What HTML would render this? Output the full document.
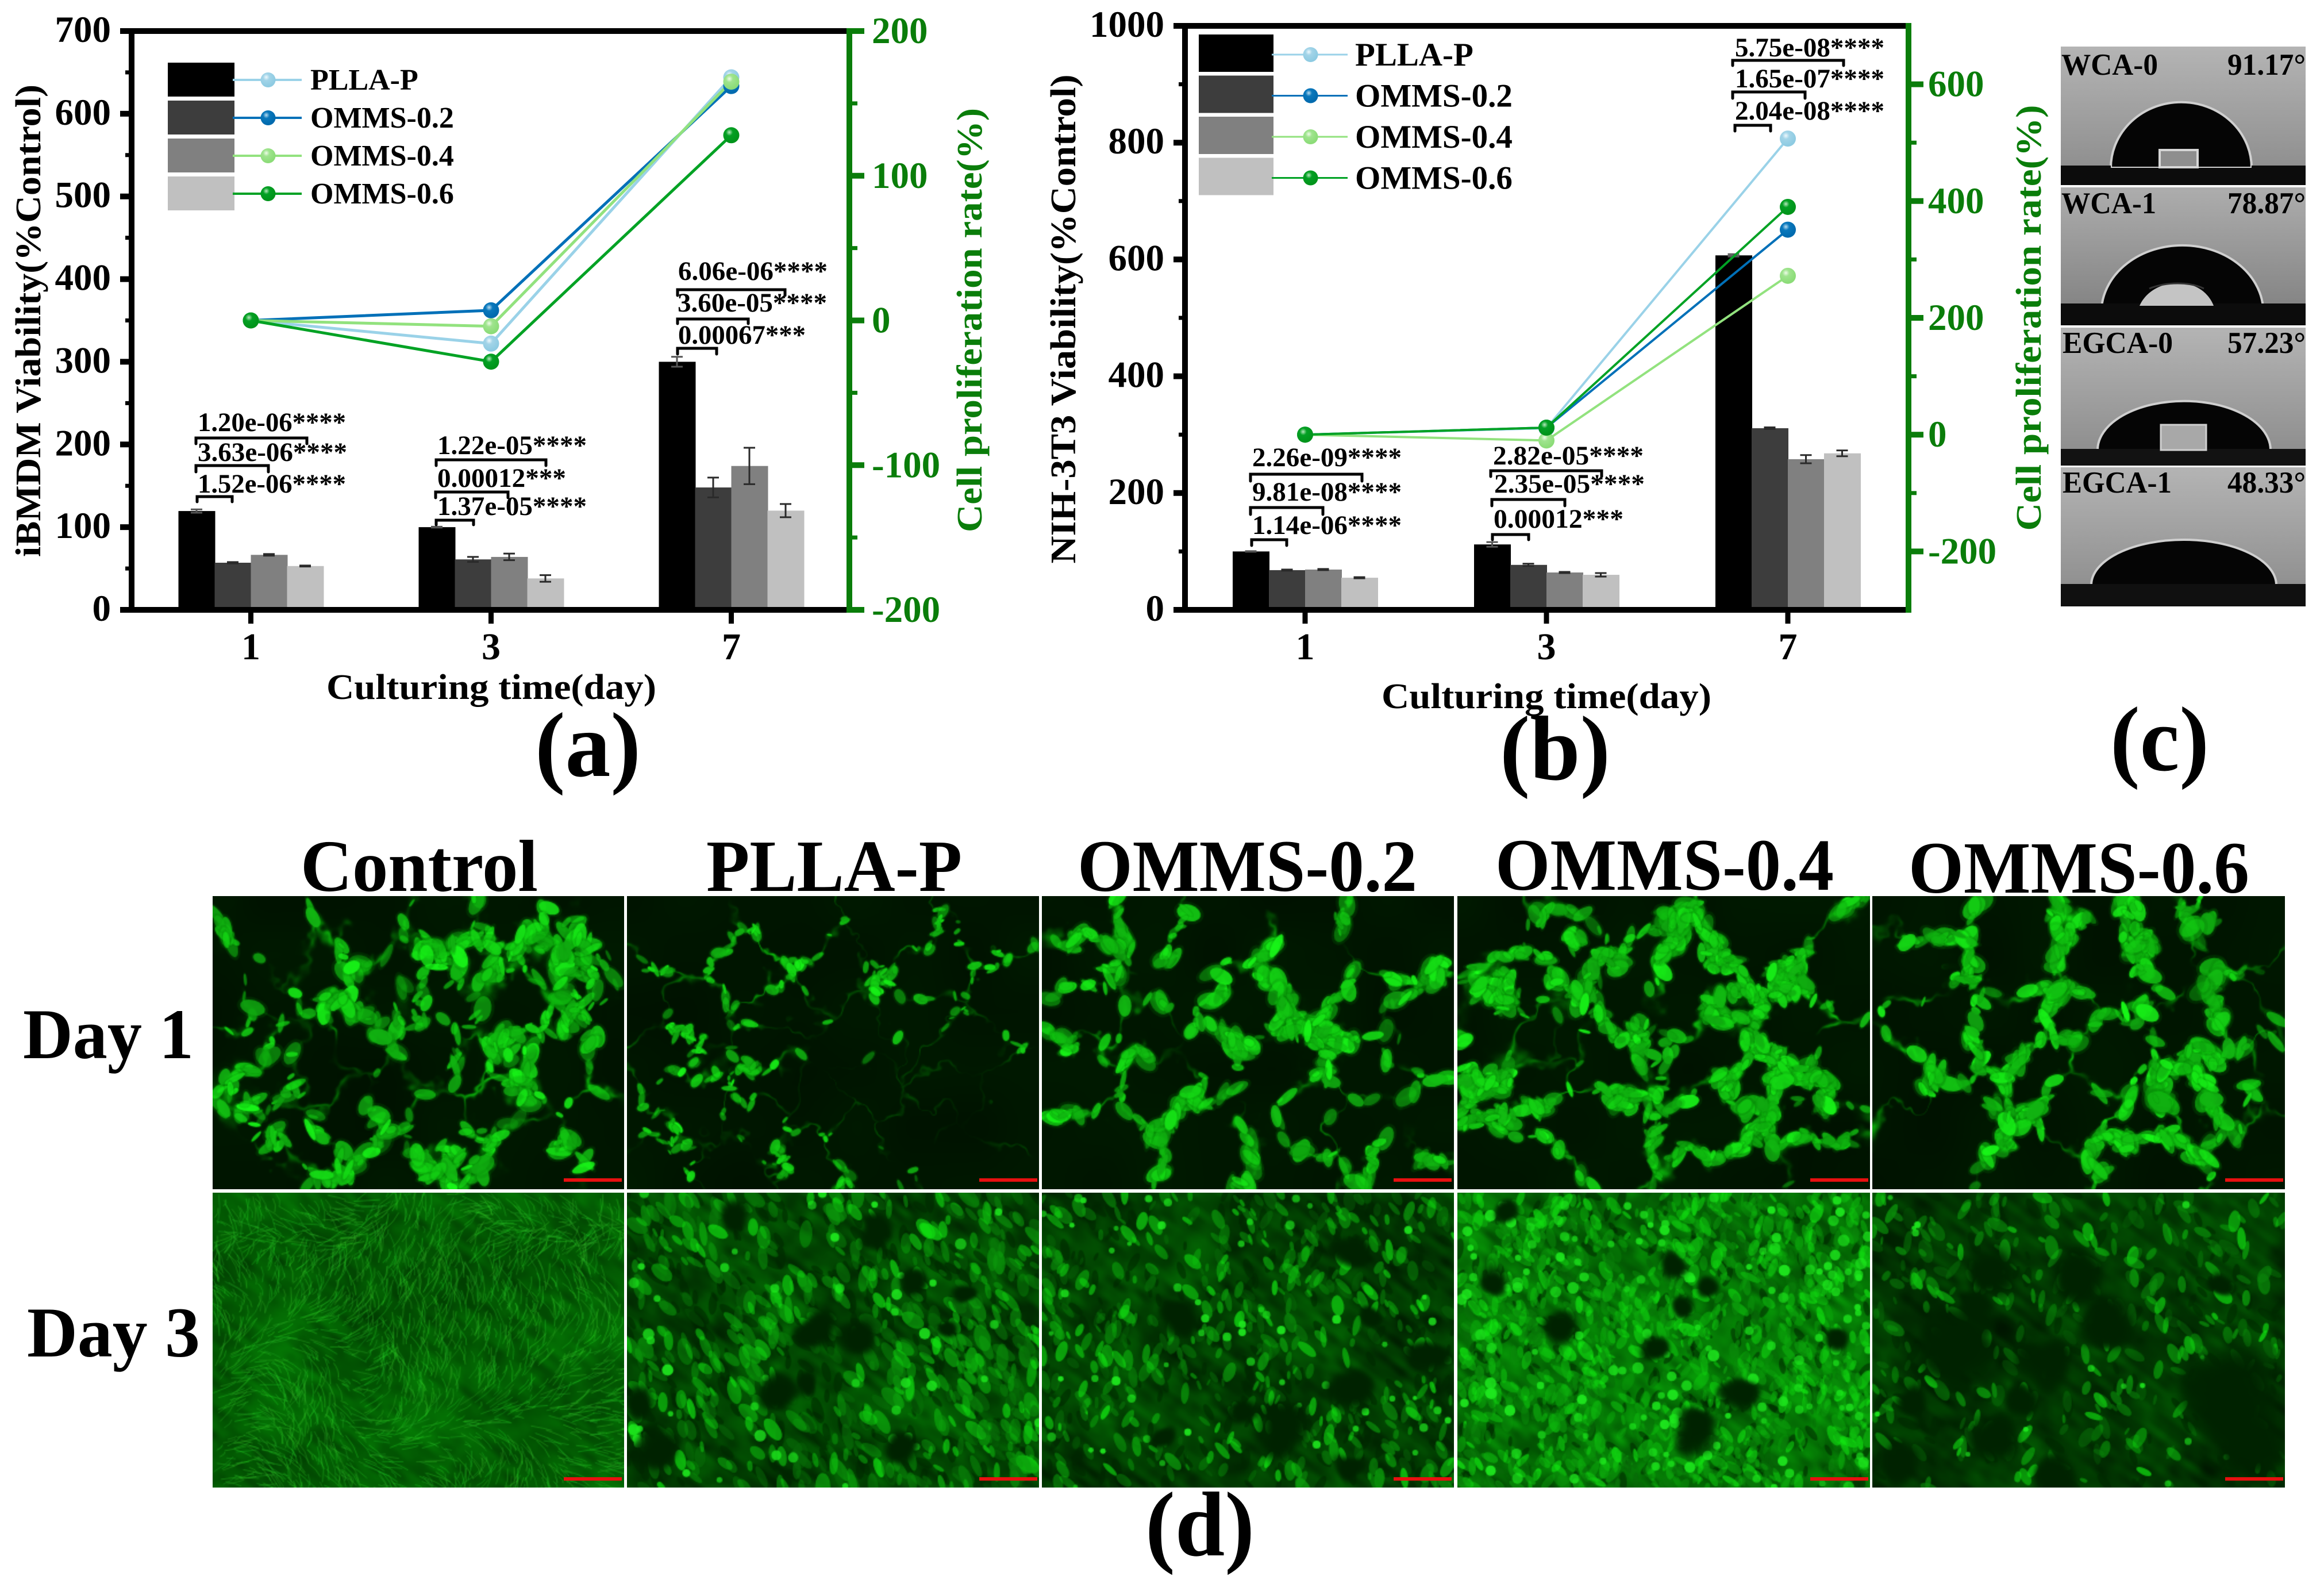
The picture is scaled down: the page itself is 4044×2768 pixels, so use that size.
<!DOCTYPE html>
<html lang="en">
<head>
<meta charset="utf-8">
<title>Cell viability figure</title>
<style>
html,body{margin:0;padding:0;background:#fff;}
#figure{position:relative;width:4044px;height:2768px;overflow:hidden;background:#fff;}
#figure canvas{position:absolute;display:block;}
#overlay{position:absolute;left:0;top:0;}
#overlay text{font-family:"Liberation Serif",serif;font-weight:bold;fill:#000;}
#overlay .g{fill:#0a7d0a;}
</style>
</head>
<body>
<div id="figure">
<canvas id="p00" width="358" height="255" style="left:370px;top:1559px;width:716px;height:510px"></canvas>
<canvas id="p01" width="358" height="255" style="left:1091px;top:1559px;width:717px;height:510px"></canvas>
<canvas id="p02" width="358" height="255" style="left:1813px;top:1559px;width:717px;height:510px"></canvas>
<canvas id="p03" width="358" height="255" style="left:2536px;top:1559px;width:718px;height:510px"></canvas>
<canvas id="p04" width="358" height="255" style="left:3258px;top:1559px;width:718px;height:510px"></canvas>
<canvas id="p10" width="358" height="257" style="left:370px;top:2075px;width:716px;height:513px"></canvas>
<canvas id="p11" width="358" height="257" style="left:1091px;top:2075px;width:717px;height:513px"></canvas>
<canvas id="p12" width="358" height="257" style="left:1813px;top:2075px;width:717px;height:513px"></canvas>
<canvas id="p13" width="358" height="257" style="left:2536px;top:2075px;width:718px;height:513px"></canvas>
<canvas id="p14" width="358" height="257" style="left:3258px;top:2075px;width:718px;height:513px"></canvas>

<svg id="overlay" xmlns="http://www.w3.org/2000/svg" width="4044" height="2768" viewBox="0 0 4044 2768">
<defs>
<radialGradient id="ball-0" cx="38%" cy="32%" r="62%"><stop offset="0" stop-color="#eef8fc"/><stop offset=".35" stop-color="#a2d4e8"/><stop offset="1" stop-color="#8ecbe2"/></radialGradient>
<radialGradient id="ball-1" cx="38%" cy="32%" r="62%"><stop offset="0" stop-color="#b8dcf0"/><stop offset=".35" stop-color="#0a78bc"/><stop offset="1" stop-color="#006aae"/></radialGradient>
<radialGradient id="ball-2" cx="38%" cy="32%" r="62%"><stop offset="0" stop-color="#eefbe8"/><stop offset=".35" stop-color="#9fe48e"/><stop offset="1" stop-color="#8cdc78"/></radialGradient>
<radialGradient id="ball-3" cx="38%" cy="32%" r="62%"><stop offset="0" stop-color="#b6e8bc"/><stop offset=".35" stop-color="#04a024"/><stop offset="1" stop-color="#00941a"/></radialGradient>
<linearGradient id="wca-bg" x1="0" y1="0" x2="0" y2="1"><stop offset="0" stop-color="#b4b4b4"/><stop offset="1" stop-color="#8a8a8a"/></linearGradient>
<linearGradient id="wca-bg2" x1="0" y1="0" x2="0" y2="1"><stop offset="0" stop-color="#adadad"/><stop offset="1" stop-color="#7e7e7e"/></linearGradient>
</defs>

<g id="chart-a"></g>
<g id="chart-b"></g>

<!-- chart a titles -->
<text x="0" y="0" transform="translate(70 558) rotate(-90)" text-anchor="middle" font-size="62" textLength="822" lengthAdjust="spacingAndGlyphs">iBMDM Viability(%Control)</text>
<text class="g" x="0" y="0" transform="translate(1708 557) rotate(-90)" text-anchor="middle" font-size="62" textLength="738" lengthAdjust="spacingAndGlyphs">Cell proliferation rate(%)</text>
<text x="855" y="1216" text-anchor="middle" font-size="62" textLength="574" lengthAdjust="spacingAndGlyphs">Culturing time(day)</text>
<text x="1023" y="1350" text-anchor="middle" font-size="160" textLength="184" lengthAdjust="spacingAndGlyphs">(a)</text>

<!-- chart b titles -->
<text x="0" y="0" transform="translate(1871 555) rotate(-90)" text-anchor="middle" font-size="62" textLength="851" lengthAdjust="spacingAndGlyphs">NIH-3T3 Viability(%Control)</text>
<text class="g" x="0" y="0" transform="translate(3551 553) rotate(-90)" text-anchor="middle" font-size="62" textLength="741" lengthAdjust="spacingAndGlyphs">Cell proliferation rate(%)</text>
<text x="2691" y="1232" text-anchor="middle" font-size="62" textLength="574" lengthAdjust="spacingAndGlyphs">Culturing time(day)</text>
<text x="2706" y="1356" text-anchor="middle" font-size="160" textLength="192" lengthAdjust="spacingAndGlyphs">(b)</text>

<!-- significance annotations a -->
<g fill="none" stroke="#000" stroke-width="5" stroke-linecap="round">
<path d="M341 772V762H534V772"/><path d="M341 821V810H467V821"/><path d="M343 873V864H404V873"/>
<path d="M759 810V800H950V810"/><path d="M758 866V856H884V866"/><path d="M759 913V905H824V913"/>
<path d="M1179 514V504H1366V514"/><path d="M1179 563V555H1302V563"/><path d="M1179 616V606H1247V616"/>
</g>
<g font-size="47">
<text x="344" y="750" textLength="258" lengthAdjust="spacingAndGlyphs">1.20e-06****</text>
<text x="344" y="802" textLength="260" lengthAdjust="spacingAndGlyphs">3.63e-06****</text>
<text x="344" y="857" textLength="258" lengthAdjust="spacingAndGlyphs">1.52e-06****</text>
<text x="761" y="790" textLength="260" lengthAdjust="spacingAndGlyphs">1.22e-05****</text>
<text x="761" y="847" textLength="224" lengthAdjust="spacingAndGlyphs">0.00012***</text>
<text x="761" y="896" textLength="260" lengthAdjust="spacingAndGlyphs">1.37e-05****</text>
<text x="1180" y="487" textLength="260" lengthAdjust="spacingAndGlyphs">6.06e-06****</text>
<text x="1179" y="542" textLength="260" lengthAdjust="spacingAndGlyphs">3.60e-05****</text>
<text x="1180" y="598" textLength="222" lengthAdjust="spacingAndGlyphs">0.00067***</text>
</g>

<!-- significance annotations b -->
<g fill="none" stroke="#000" stroke-width="5" stroke-linecap="round">
<path d="M2176 837V825H2370V837"/><path d="M2176 895V883H2302V895"/><path d="M2178 949V939H2239V949"/>
<path d="M2594 829V819H2787V829"/><path d="M2596 880V869H2723V880"/><path d="M2597 939V930H2660V939"/>
<path d="M3015 114V105H3208V114"/><path d="M3015 171V160H3141V171"/><path d="M3019 228V218H3081V228"/>
</g>
<g font-size="47">
<text x="2179" y="811" textLength="260" lengthAdjust="spacingAndGlyphs">2.26e-09****</text>
<text x="2179" y="871" textLength="260" lengthAdjust="spacingAndGlyphs">9.81e-08****</text>
<text x="2179" y="929" textLength="260" lengthAdjust="spacingAndGlyphs">1.14e-06****</text>
<text x="2598" y="808" textLength="262" lengthAdjust="spacingAndGlyphs">2.82e-05****</text>
<text x="2600" y="857" textLength="262" lengthAdjust="spacingAndGlyphs">2.35e-05****</text>
<text x="2599" y="918" textLength="226" lengthAdjust="spacingAndGlyphs">0.00012***</text>
<text x="3019" y="98" textLength="260" lengthAdjust="spacingAndGlyphs">5.75e-08****</text>
<text x="3019" y="152" textLength="260" lengthAdjust="spacingAndGlyphs">1.65e-07****</text>
<text x="3019" y="208" textLength="260" lengthAdjust="spacingAndGlyphs">2.04e-08****</text>
</g>

<!-- panel c -->
<g>
<g>
<rect x="3586" y="81" width="426" height="241" fill="url(#wca-bg)"/>
<path d="M3673 292A122 114 0 0 1 3918 292Z" fill="#050505" stroke="#cfcfcf" stroke-width="4"/>
<rect x="3586" y="288" width="87" height="34" fill="#0c0c0c"/><rect x="3918" y="288" width="94" height="34" fill="#0c0c0c"/>
<rect x="3586" y="292" width="426" height="30" fill="#0c0c0c"/>
<rect x="3758" y="261" width="66" height="30" fill="#8e8e8e" stroke="#d6d6d6" stroke-width="4"/>
</g>
<g>
<rect x="3586" y="326" width="426" height="240" fill="url(#wca-bg2)"/>
<path d="M3657 534A141 117 0 0 1 3938 534Z" fill="#050505" stroke="#cfcfcf" stroke-width="4"/>
<rect x="3586" y="528" width="426" height="38" fill="#0c0c0c"/>
<path d="M3723 532C3745 482 3830 476 3852 532Z" fill="#c4c4c4"/>
<path d="M3740 502C3770 490 3810 490 3835 502" fill="none" stroke="#333" stroke-width="3"/>
</g>
<g>
<rect x="3586" y="570" width="426" height="240" fill="url(#wca-bg)"/>
<path d="M3650 783A150 85 0 0 1 3951 783Z" fill="#050505" stroke="#cfcfcf" stroke-width="4"/>
<rect x="3586" y="781" width="426" height="29" fill="#121212"/>
<rect x="3760" y="739" width="79" height="44" fill="#a8a8a8" stroke="#cfcfcf" stroke-width="3"/>
</g>
<g>
<rect x="3586" y="813" width="426" height="242" fill="url(#wca-bg)"/>
<path d="M3639 1018A161 79 0 0 1 3961 1018Z" fill="#050505" stroke="#cfcfcf" stroke-width="4"/>
<rect x="3586" y="1016" width="426" height="39" fill="#101010"/>
</g>
<g font-size="53">
<text x="3587" y="130" textLength="168" lengthAdjust="spacingAndGlyphs">WCA-0</text>
<text x="4012" y="130" text-anchor="end" textLength="136" lengthAdjust="spacingAndGlyphs">91.17°</text>
<text x="3587" y="371" textLength="165" lengthAdjust="spacingAndGlyphs">WCA-1</text>
<text x="4012" y="371" text-anchor="end" textLength="136" lengthAdjust="spacingAndGlyphs">78.87°</text>
<text x="3589" y="614" textLength="192" lengthAdjust="spacingAndGlyphs">EGCA-0</text>
<text x="4012" y="614" text-anchor="end" textLength="136" lengthAdjust="spacingAndGlyphs">57.23°</text>
<text x="3589" y="857" textLength="190" lengthAdjust="spacingAndGlyphs">EGCA-1</text>
<text x="4012" y="857" text-anchor="end" textLength="136" lengthAdjust="spacingAndGlyphs">48.33°</text>
</g>
<text x="3758" y="1340" text-anchor="middle" font-size="160" textLength="172" lengthAdjust="spacingAndGlyphs">(c)</text>
</g>

<!-- panel d -->
<g font-size="128">
<text x="523" y="1550" textLength="413" lengthAdjust="spacingAndGlyphs">Control</text>
<text x="1229" y="1550" textLength="445" lengthAdjust="spacingAndGlyphs">PLLA-P</text>
<text x="1875" y="1550" textLength="591" lengthAdjust="spacingAndGlyphs">OMMS-0.2</text>
<text x="2602" y="1548" textLength="589" lengthAdjust="spacingAndGlyphs">OMMS-0.4</text>
<text x="3321" y="1553" textLength="593" lengthAdjust="spacingAndGlyphs">OMMS-0.6</text>
</g>
<text x="40" y="1841" font-size="124" textLength="297" lengthAdjust="spacingAndGlyphs">Day 1</text>
<text x="47" y="2360" font-size="124" textLength="301" lengthAdjust="spacingAndGlyphs">Day 3</text>
<text x="2088" y="2706" text-anchor="middle" font-size="160" textLength="190" lengthAdjust="spacingAndGlyphs">(d)</text>
<g fill="#e81010">
<rect x="981" y="2050" width="101" height="6"/><rect x="1704" y="2050" width="101" height="6"/><rect x="2425" y="2050" width="101" height="6"/><rect x="3150" y="2050" width="101" height="6"/><rect x="3872" y="2050" width="101" height="6"/>
<rect x="981" y="2570" width="101" height="6"/><rect x="1704" y="2570" width="101" height="6"/><rect x="2425" y="2570" width="101" height="6"/><rect x="3150" y="2570" width="101" height="6"/><rect x="3872" y="2570" width="101" height="6"/>
</g>
</svg>
</div>

<script>
/* ===== chart data ===== */
const categories = ['1', '3', '7'];
const seriesNames = ['PLLA-P', 'OMMS-0.2', 'OMMS-0.4', 'OMMS-0.6'];

const aBarPlla = [119.5, 100, 300];
const aBarOmms02 = [57, 61, 148];
const aBarOmms04 = [66.5, 64, 174];
const aBarOmms06 = [53, 38, 120];
const aErrPlla = [2, 0.5, 6];
const aErrOmms02 = [0.8, 3, 12];
const aErrOmms04 = [1, 4, 22];
const aErrOmms06 = [0.6, 4, 8];
const aRatePlla = [0, -16, 168];
const aRateOmms02 = [0, 7, 162];
const aRateOmms04 = [0, -4, 165];
const aRateOmms06 = [0, -28.5, 128];
const aLeftTicks = [0, 100, 200, 300, 400, 500, 600, 700];
const aRightTicks = [-200, -100, 0, 100, 200];

const bBarPlla = [100, 112, 607];
const bBarOmms02 = [68, 77, 311];
const bBarOmms04 = [69, 64, 258];
const bBarOmms06 = [55, 60, 268];
const bErrPlla = [0.5, 4, 2];
const bErrOmms02 = [1, 2, 1.5];
const bErrOmms04 = [1, 1, 7];
const bErrOmms06 = [1, 3, 5];
const bRatePlla = [0, 11, 507];
const bRateOmms02 = [0, 12, 351];
const bRateOmms04 = [0, -10, 272];
const bRateOmms06 = [0, 12, 390];
const bLeftTicks = [0, 200, 400, 600, 800, 1000];
const bRightTicks = [-200, 0, 200, 400, 600];

const barColors = ['#000000', '#3d3d3d', '#808080', '#c0c0c0'];
const lineColors = ['#9ad2e8', '#0070b8', '#92e27e', '#00a224'];
const SVGNS = 'http://www.w3.org/2000/svg';
const GREEN = '#0a7d0a';

function make(parent, tag, attrs, text) {
  const el = document.createElementNS(SVGNS, tag);
  for (const k in attrs) el.setAttribute(k, attrs[k]);
  if (text !== undefined) el.textContent = text;
  parent.appendChild(el);
  return el;
}

function drawChart(root, c) {
  const yL = v => c.bottom - (v - c.leftMin) / (c.leftMax - c.leftMin) * (c.bottom - c.top);
  const yR = v => c.bottom - (v - c.rightMin) / (c.rightMax - c.rightMin) * (c.bottom - c.top);
  const xC = i => c.firstX + i * c.stepX;

  // bars + error bars
  c.bars.forEach((vals, s) => {
    vals.forEach((v, i) => {
      const x = xC(i) + (s - 2) * c.barW;
      const bar = make(root, 'rect', {x: x, y: yL(v), width: c.barW + 1, height: c.bottom - yL(v), fill: barColors[s]});
      
      
      const e = c.errs[s][i];
      const cx = x + c.barW / 2;
      const err = make(root, 'path', {
        d: 'M' + (cx - 10) + ' ' + yL(v + e) + 'H' + (cx + 10) + 'M' + cx + ' ' + yL(v + e) + 'V' + yL(v - e) + 'M' + (cx - 10) + ' ' + yL(v - e) + 'H' + (cx + 10),
        stroke: s === 0 ? '#555' : '#2a2a2a', 'stroke-width': 3, fill: 'none'
      });
      
      
    });
  });

  // axes frame
  const frame = make(root, 'path', {
    d: 'M' + c.left + ' ' + c.bottom + 'V' + c.top + 'H' + c.right + 'M' + c.left + ' ' + c.bottom + 'H' + c.right,
    stroke: '#000', 'stroke-width': 10, fill: 'none', 'stroke-linecap': 'square'
  });
  
  
  const rAxis = make(root, 'line', {x1: c.right, x2: c.right, y1: c.top - 5, y2: c.bottom + 5, stroke: GREEN, 'stroke-width': 10});
  
  

  // left ticks
  c.leftTicks.forEach((v, i) => {
    const t = make(root, 'line', {x1: c.left - 20, x2: c.left, y1: yL(v), y2: yL(v), stroke: '#000', 'stroke-width': 10});
    
    
    const lab = make(root, 'text', {x: c.leftLabelX, y: yL(v) + 19, 'text-anchor': 'end', 'font-size': 65}, String(v));
    
    
    if (i < c.leftTicks.length - 1) {
      const mv = (v + c.leftTicks[i + 1]) / 2;
      const m = make(root, 'line', {x1: c.left - 11, x2: c.left, y1: yL(mv), y2: yL(mv), stroke: '#000', 'stroke-width': 7});
      
      
    }
  });

  // right ticks
  c.rightTicks.forEach((v, i) => {
    const t = make(root, 'line', {x1: c.right, x2: c.right + 26, y1: yR(v), y2: yR(v), stroke: GREEN, 'stroke-width': 10});
    
    
    const lab = make(root, 'text', {x: c.rightLabelX, y: yR(v) + 21, 'font-size': 65, class: 'g'}, String(v));
    
    
    if (i < c.rightTicks.length - 1) {
      const mv = (v + c.rightTicks[i + 1]) / 2;
      const m = make(root, 'line', {x1: c.right, x2: c.right + 14, y1: yR(mv), y2: yR(mv), stroke: GREEN, 'stroke-width': 7});
      
      
    }
  });

  // x ticks
  categories.forEach((name, i) => {
    const t = make(root, 'line', {x1: xC(i), x2: xC(i), y1: c.bottom, y2: c.bottom + 24, stroke: '#000', 'stroke-width': 9});
    
    
    const lab = make(root, 'text', {x: xC(i), y: c.xLabelY, 'text-anchor': 'middle', 'font-size': 66}, name);
    
    
  });

  // proliferation lines
  c.lines.forEach((vals, s) => {
    const pts = vals.map((v, i) => xC(i) + ',' + yR(v)).join(' ');
    const line = make(root, 'polyline', {points: pts, fill: 'none', stroke: lineColors[s], 'stroke-width': c.lineW});
    
    
  });
  c.lines.forEach((vals, s) => {
    vals.forEach((v, i) => {
      const pt = make(root, 'circle', {cx: xC(i), cy: yR(v), r: c.dotR, fill: 'url(#ball-' + s + ')'});
      
      
    });
  });

  // legend
  seriesNames.forEach((name, s) => {
    const sw = make(root, 'rect', {x: c.legX, y: c.legSwatchY + s * c.legStep, width: c.legSwW, height: c.legSwH, fill: barColors[s]});
    
    
    const ly = c.legLineY + s * c.legStep;
    const ll = make(root, 'line', {x1: c.legX + c.legSwW - 3, x2: c.legX + c.legSwW + c.legLineW, y1: ly, y2: ly, stroke: lineColors[s], 'stroke-width': c.lineW - 1});
    
    
    const lm = make(root, 'circle', {cx: c.legX + c.legSwW + c.legLineW / 2, cy: ly, r: c.dotR - 1, fill: 'url(#ball-' + s + ')'});
    
    
    const lt = make(root, 'text', {x: c.legTextX, y: ly + c.legFont * 0.33, 'font-size': c.legFont}, name);
    
    
  });
}

drawChart(document.getElementById('chart-a'), {
  left: 229, right: 1478, top: 54, bottom: 1061,
  leftMin: 0, leftMax: 700, rightMin: -200, rightMax: 200,
  firstX: 436.5, stepX: 418, barW: 63, lineW: 5, dotR: 14,
  bars: [aBarPlla, aBarOmms02, aBarOmms04, aBarOmms06],
  errs: [aErrPlla, aErrOmms02, aErrOmms04, aErrOmms06],
  lines: [aRatePlla, aRateOmms02, aRateOmms04, aRateOmms06],
  leftTicks: aLeftTicks, rightTicks: aRightTicks,
  leftLabelX: 193, rightLabelX: 1517, xLabelY: 1147,
  legX: 292, legSwatchY: 109, legSwW: 116, legSwH: 59, legStep: 66, legLineY: 139, legLineW: 117,
  legTextX: 540, legFont: 52
});

drawChart(document.getElementById('chart-b'), {
  left: 2062, right: 3321, top: 45, bottom: 1061,
  leftMin: 0, leftMax: 1000, rightMin: -300, rightMax: 700,
  firstX: 2271, stepX: 420, barW: 63, lineW: 4, dotR: 14,
  bars: [bBarPlla, bBarOmms02, bBarOmms04, bBarOmms06],
  errs: [bErrPlla, bErrOmms02, bErrOmms04, bErrOmms06],
  lines: [bRatePlla, bRateOmms02, bRateOmms04, bRateOmms06],
  leftTicks: bLeftTicks, rightTicks: bRightTicks,
  leftLabelX: 2026, rightLabelX: 3355, xLabelY: 1147,
  legX: 2086, legSwatchY: 60, legSwW: 130, legSwH: 65, legStep: 71.5, legLineY: 95, legLineW: 129,
  legTextX: 2358, legFont: 57
});

/* ===== micrograph texture (decorative fluorescence images) ===== */
function rng(seed) {
  let s = seed >>> 0;
  return function () {
    s = (Math.imul(s, 1664525) + 1013904223) >>> 0;
    return s / 4294967296;
  };
}
function makeNoise(seed) {
  const r = rng(seed), n = 64, g = new Float32Array(n * n);
  for (let i = 0; i < 20; i++) r();
  for (let i = 0; i < n * n; i++) g[i] = r();
  return function (x, y) {
    const xi = Math.floor(x), yi = Math.floor(y);
    let fx = x - xi, fy = y - yi;
    fx = fx * fx * (3 - 2 * fx); fy = fy * fy * (3 - 2 * fy);
    const a = g[((yi & 63) * 64) + (xi & 63)], b = g[((yi & 63) * 64) + ((xi + 1) & 63)];
    const c = g[(((yi + 1) & 63) * 64) + (xi & 63)], d = g[(((yi + 1) & 63) * 64) + ((xi + 1) & 63)];
    return (a + (b - a) * fx) * (1 - fy) + (c + (d - c) * fx) * fy;
  };
}

const day1Holes = {
  p00: [[.17,.15],[.27,.22],[.42,.3],[.37,.07],[.6,.08],[.7,.09],[.84,.13],[.89,.07],[.8,.2],[.05,.33],[.11,.32],[.55,.3],[.65,.27],[.72,.33],[.14,.55],[.09,.5],[.27,.55],[.35,.5],[.52,.6],[.63,.6],[.7,.6],[.55,.78],[.45,.9],[.19,.8],[.12,.93],[.34,.75],[.86,.58],[.79,.88],[.96,.55],[.72,.72],[.45,.68],[.92,.8]],
  p01: [[.13,.1],[.42,.1],[.64,.09],[.88,.1],[.48,.2],[.75,.24],[.04,.36],[.3,.3],[.91,.33],[.13,.42],[.36,.4],[.72,.43],[.1,.55],[.36,.55],[.57,.5],[.8,.52],[.12,.68],[.37,.6],[.58,.64],[.8,.68],[.05,.76],[.32,.78],[.47,.72],[.72,.8],[.9,.72],[.28,.9],[.55,.85],[.82,.92],[.06,.93],[.43,.93]],
  p02: [[.1,.08],[.27,.05],[.4,.15],[.66,.24],[.85,.2],[.79,.33],[.08,.23],[.34,.35],[.12,.39],[.27,.47],[.48,.4],[.93,.44],[.4,.57],[.3,.62],[.53,.62],[.81,.62],[.63,.77],[.79,.8],[.95,.8],[.14,.85],[.42,.82],[.6,.93],[.9,.93],[.07,.6]],
  p03: [[.15,.31],[.26,.18],[.32,.05],[.26,.51],[.18,.46],[.33,.56],[.4,.3],[.54,.37],[.22,.62],[.11,.41],[.79,.08],[.82,.48],[.9,.59],[.64,.76],[.86,.76],[.72,.65],[.19,.93],[.3,.8],[.68,.93],[.89,.9],[.09,.11],[.61,.54],[.92,.25]],
  p04: [[.08,.23],[.33,.2],[.7,.2],[.9,.13],[.97,.3],[.91,.39],[.95,.62],[.12,.46],[.46,.46],[.59,.25],[.17,.78],[.66,.88],[.78,.42],[.37,.42],[.44,.56],[.68,.76],[.4,.92],[.95,.88],[.76,.73],[.49,.72],[.06,.58],[.53,.54],[.1,.07],[.88,.62]]
};
const day1Clumps = {
  p00: [[.08,.07,.09,2.2],[.28,.05,.07,2.2],[.33,.32,.1,2.4],[.12,.65,.1,2.6],[.4,.55,.08,1.6],[.52,.4,.06,1.6],[.62,.25,.1,2],[.87,.2,.1,2],[.9,.42,.1,2.2],[.78,.52,.08,2.4],[.42,.88,.1,2.2],[.62,.88,.12,2],[.2,.17,.13,.25],[.25,.58,.12,.3]],
  p01: [[.1,.2,.08,1.7],[.22,.28,.1,2.2],[.37,.1,.1,1.5],[.72,.26,.1,2],[.25,.68,.1,1.6],[.05,.8,.07,1.3],[.75,.6,.2,.45],[.55,.15,.12,.5],[.45,.5,.16,.6]],
  p02: [[.57,.4,.13,3.4],[.06,.68,.09,3],[.33,.8,.11,3],[.2,.13,.09,2],[.9,.3,.1,1.6],[.45,.12,.1,1.6],[.4,.6,.12,.35],[.12,.4,.08,.5]],
  p03: [[.05,.45,.1,3.4],[.3,.22,.1,2.2],[.55,.18,.12,2.2],[.75,.45,.12,1.8],[.4,.68,.1,2.6],[.1,.8,.1,2.6],[.75,.75,.1,2.2],[.24,.5,.11,.15]],
  p04: [[.3,.08,.1,1.6],[.45,.1,.12,3],[.6,.1,.1,2.6],[.8,.5,.1,2.2],[.65,.7,.1,1.6],[.3,.62,.1,1.6],[.3,.75,.08,1.9],[.8,.85,.1,1.3],[1,.3,.1,.08],[1,.6,.08,.2],[.05,.08,.07,.3],[.17,.82,.12,.2]]
};
const day3Holes = {
  p10: [],
  p11: [[.26,.07,.04],[.6,.12,.04],[.7,.29,.035],[.46,.46,.045],[.56,.49,.05],[.03,.71,.045],[.36,.68,.045],[.68,.87,.045],[.07,.86,.05],[.77,.47,.025],[.82,.34,.03],[.43,.66,.03]],
  p12: [[.33,.42,.035],[.58,.8,.065],[.48,.75,.035],[.75,.68,.05],[.75,.2,.04],[.94,.55,.05],[.29,.83,.035],[.81,.42,.025],[.75,.94,.04]],
  p13: [[.52,.23,.035],[.6,.31,.03],[.54,.38,.03],[.48,.52,.035],[.24,.47,.04],[.09,.29,.035],[.91,.51,.03],[.68,.67,.04],[.57,.8,.05],[.11,.07,.03]],
  p14: [[.2,.53,.085],[.43,.57,.07],[.29,.28,.06],[.5,.29,.07],[.56,.44,.06],[.87,.68,.115],[.91,.85,.09],[.29,.83,.06],[.06,.91,.05],[.45,.96,.05],[.36,.72,.045],[.1,.71,.045],[.25,.4,.04],[.85,.31,.03]]
};
const day1Style = {
  p00: {w: 5.5, base: 85, spind: 620, len: 7},
  p01: {w: 3, base: 75, spind: 300, len: 4.5},
  p02: {w: 4.5, base: 80, spind: 620, len: 7},
  p03: {w: 6, base: 100, spind: 1200, len: 6.5},
  p04: {w: 4.5, base: 90, spind: 720, len: 7.5}
};
const day3Style = {
  p10: {base: 50, amp: 62, spind: 0, len: 0, ang: 0, jit: 0, dark: 0, blobs: 0, r: 0, lines: 1900},
  p11: {base: 22, amp: 78, spind: 750, len: 8, ang: 1.1, jit: 1.2, dark: 260, blobs: 45, r: 4.5, lines: 0},
  p12: {base: 16, amp: 72, spind: 600, len: 6.5, ang: 1.4, jit: 1.6, dark: 220, blobs: 60, r: 3.5, lines: 0},
  p13: {base: 42, amp: 105, spind: 1700, len: 6.5, ang: 1.4, jit: 2, dark: 240, blobs: 150, r: 4.5, lines: 0},
  p14: {base: 14, amp: 62, spind: 380, len: 7, ang: 1.3, jit: 2, dark: 120, blobs: 20, r: 3, lines: 0}
};

function blob(ctx, x, y, a, b, rot, style) {
  ctx.fillStyle = style;
  ctx.beginPath();
  ctx.ellipse(x, y, a, b, rot, 0, 6.283);
  ctx.fill();
}

function paintDay1(id, seedNum) {
  const cv = document.getElementById(id), W = cv.width, H = cv.height;
  const ctx = cv.getContext('2d');
  const img = ctx.createImageData(W, H), data = img.data;
  const n1 = makeNoise(seedNum + 1), n2 = makeNoise(seedNum + 2), n3 = makeNoise(seedNum + 3), n4 = makeNoise(seedNum + 4);
  const pts = day1Holes[id].map(p => [p[0] * W, p[1] * H]);
  const clumps = day1Clumps[id].map(c => [c[0] * W, c[1] * H, c[2] * W, c[3]]);
  const st = day1Style[id];
  const edge = new Float32Array(W * H), field = new Float32Array(W * H), boost = new Float32Array(W * H);
  for (let y = 0; y < H; y++) for (let x = 0; x < W; x++) {
    const wx = x + (n1(x * .05, y * .05) - .5) * 28 + (n3(x * .18, y * .18) - .5) * 8;
    const wy = y + (n2(x * .05, y * .05) - .5) * 28 + (n1(x * .18 + 5, y * .18) - .5) * 8;
    let f1 = 1e9, f2 = 1e9;
    for (const p of pts) {
      const d = Math.hypot(wx - p[0], wy - p[1]);
      if (d < f1) { f2 = f1; f1 = d; } else if (d < f2) { f2 = d; }
    }
    let mult = 1;
    for (const c of clumps) {
      const q = Math.hypot(x - c[0], y - c[1]) / c[2];
      mult += (c[3] - 1) * Math.exp(-q * q);
    }
    mult = Math.max(.05, mult);
    boost[y * W + x] = mult;
    field[y * W + x] = f2 - f1;
    const dd = (f2 - f1) / (st.w * (.45 + 1.3 * n3(x * .05, y * .05)) * Math.min(2.2, Math.sqrt(mult)));
    const e = Math.exp(-dd * dd);
    edge[y * W + x] = e;
    const fade = Math.max(0, n4(x * .03 + 2, y * .03) - .22) * 1.7;
    const b = e * fade * Math.min(1.8, mult) * (.25 + .85 * n3(x * .15 + 9, y * .15 + 4));
    const G = Math.min(255, 18 + st.base * b * 1.5 + 8 * n2(x * .02 + 7, y * .02));
    const RB = G * G / 255 * .1;
    const k = (y * W + x) * 4;
    data[k] = RB; data[k + 1] = G; data[k + 2] = RB; data[k + 3] = 255;
  }
  ctx.putImageData(img, 0, 0);
  const r = rng(seedNum * 77 + 5);
  let placed = 0;
  for (let i = 0; i < st.spind * 30 && placed < st.spind; i++) {
    const x = 1 + r() * (W - 3), y = 1 + r() * (H - 3);
    const ix = x | 0, iy = y | 0;
    const e = edge[iy * W + ix], mult = boost[iy * W + ix];
    if (e < .45 / mult || r() > e * mult) continue;
    const clump = n4(x * .035, y * .035) * mult;
    if (clump < .5 && r() < .85) continue;
    const gx = field[iy * W + ix + 1] - field[iy * W + ix - 1];
    const gy = field[(iy + 1) * W + ix] - field[(iy - 1) * W + ix];
    const ang = Math.atan2(gy, gx) + 1.571 + (r() - .5) * 1.1;
    const L = st.len * (.45 + r() * 1.15);
    const Wd = L * (.25 + .45 * r());
    blob(ctx, x, y, L * 1.25, Wd * 1.35, ang, 'rgba(6,120,6,.22)');
    const g = 165 + r() * 90;
    blob(ctx, x, y, L, Wd, ang, 'rgba(' + (g * .1 | 0) + ',' + (g | 0) + ',' + (g * .1 | 0) + ',' + (.35 + .6 * r()) + ')');
    placed++;
  }
}

function paintDay3(id, seedNum) {
  const cv = document.getElementById(id), W = cv.width, H = cv.height;
  const ctx = cv.getContext('2d');
  const img = ctx.createImageData(W, H), data = img.data;
  const n1 = makeNoise(seedNum + 11), n2 = makeNoise(seedNum + 12), n3 = makeNoise(seedNum + 13);
  const holes = day3Holes[id].map(h => [h[0] * W, h[1] * H, h[2] * W]);
  const st = day3Style[id];
  const shade = new Float32Array(W * H);
  function paintField(overlay) {
    for (let y = 0; y < H; y++) for (let x = 0; x < W; x++) {
      const k = (y * W + x) * 4;
      if (overlay) {
        const m = shade[y * W + x];
        data[k] = data[k] * m;
        data[k + 1] = data[k + 1] * m + 34 * (1 - m);
        data[k + 2] = data[k + 2] * m;
        continue;
      }
      const u = (x * .8 + y * .6), v = (-x * .6 + y * .8);
      const t = .5 * n1(u * .05, v * .16) + .3 * n2(x * .1, y * .1) + .5 * n3(x * .016, y * .016);
      let m = 1;
      const wx = x + (n3(x * .04, y * .04) - .5) * 14, wy = y + (n2(x * .04 + 3, y * .04) - .5) * 14;
      for (const h of holes) {
        const d = Math.hypot(wx - h[0], wy - h[1]) / h[2];
        m *= 1 - Math.exp(-d * d * d * d * d * d);
      }
      shade[y * W + x] = m;
      const G = Math.min(255, st.base + st.amp * t);
      const RB = G * G / 255 * .08;
      data[k] = RB; data[k + 1] = G; data[k + 2] = RB; data[k + 3] = 255;
    }
  }
  paintField(false);
  ctx.putImageData(img, 0, 0);
  const r = rng(seedNum * 131 + 3);
  for (let i = 0; i < st.lines; i++) {
    const x = r() * W, y = r() * H;
    const a = (n3(x * .012, y * .012) - .5) * 5 + (r() - .5) * 1.1;
    const l = 6 + r() * 20;
    ctx.strokeStyle = 'rgba(' + (30 + r() * 30 | 0) + ',' + (165 + r() * 65 | 0) + ',40,.5)';
    ctx.lineWidth = .7;
    ctx.beginPath();
    ctx.moveTo(x, y);
    ctx.quadraticCurveTo(x + Math.cos(a) * l * .5 + 3, y + Math.sin(a) * l * .5, x + Math.cos(a) * l, y + Math.sin(a) * l);
    ctx.stroke();
  }
  for (let i = 0; i < st.dark; i++) {
    const x = r() * W, y = r() * H;
    const ang = st.ang + (r() - .5) * st.jit;
    const L = st.len * (.5 + r());
    blob(ctx, x, y, L, L * .4, ang, 'rgba(0,38,0,.55)');
  }
  for (let i = 0; i < st.spind; i++) {
    const x = r() * W, y = r() * H;
    if (n3(x * .02 + 4, y * .02) < .3 && r() < .7) continue;
    const ang = st.ang + (r() - .5) * st.jit;
    const L = st.len * (.5 + r());
    const Wd = L * (.3 + .3 * r());
    const g = 95 + r() * 150;
    blob(ctx, x, y, L, Wd, ang, 'rgba(' + (g * .08 | 0) + ',' + (g | 0) + ',' + (g * .08 | 0) + ',' + (.28 + .42 * r()) + ')');
  }
  for (let i = 0; i < st.blobs; i++) {
    const x = r() * W, y = r() * H;
    const rad = st.r * (.55 + r() * .6);
    blob(ctx, x, y, rad, rad, 0, 'rgba(30,232,30,' + (.6 + .35 * r()) + ')');
  }
  const top = ctx.getImageData(0, 0, W, H);
  data.set(top.data);
  paintField(true);
  ctx.putImageData(img, 0, 0);
}

['p00', 'p01', 'p02', 'p03', 'p04'].forEach((id, i) => paintDay1(id, 100 + i * 7));
['p10', 'p11', 'p12', 'p13', 'p14'].forEach((id, i) => paintDay3(id, 300 + i * 11));
</script>
</body>
</html>
